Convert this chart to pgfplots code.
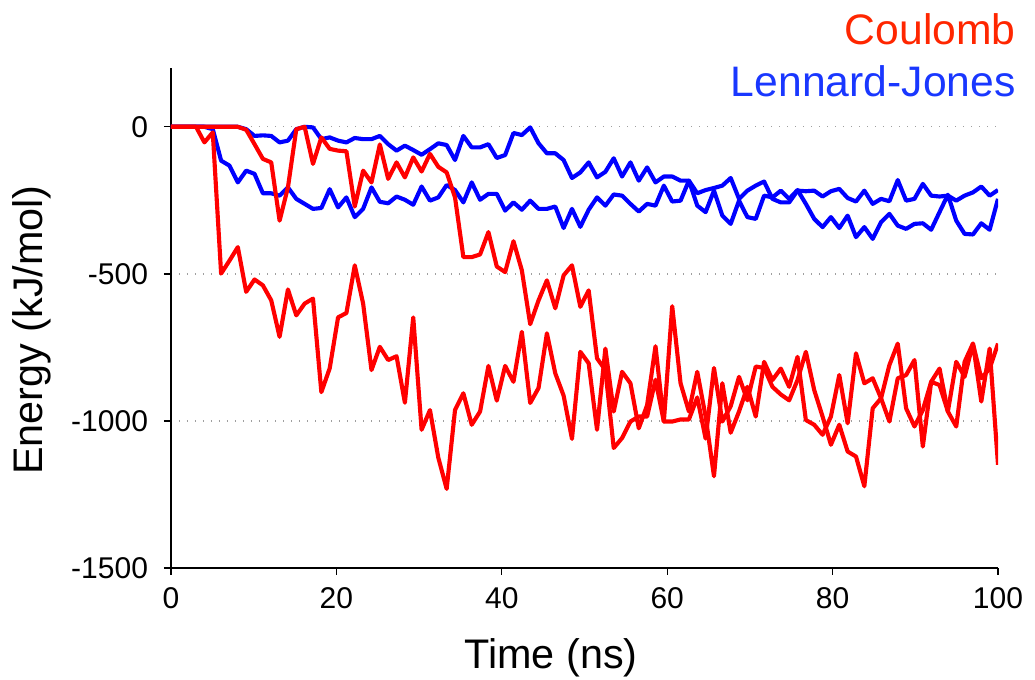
\documentclass[border=0pt]{standalone}
\usepackage{fontspec}
\setmainfont{Liberation Sans}
\usepackage{pgfplots}
\usepackage{pgfplotstable}
\pgfplotsset{compat=1.18}
\definecolor{lred}{RGB}{255,0,0}
\definecolor{lblue}{RGB}{0,0,255}
\definecolor{tred}{RGB}{255,38,0}
\definecolor{tblue}{RGB}{25,55,255}
\pgfplotstableread{
i ra rb ba bb
0 0 0 0 0
1 0 0 0 0
2 0 0 0 0
3 0 0 0 0
4 -53 0 0 0
5 -19 0 -8 0
6 -499 0 -115 0
7 -455 0 -132 0
8 -409 0 -189 0
9 -561 -10 -149 -8
10 -519 -59 -160 -31
11 -539 -109 -226 -29
12 -590 -121 -226 -31
13 -714 -319 -234 -53
14 -553 -206 -206 -47
15 -641 -8 -245 -8
16 -601 0 -262 0
17 -584 -126 -279 -2
18 -902 -36 -276 -42
19 -821 -75 -212 -36
20 -648 -81 -274 -47
21 -633 -83 -240 -53
22 -471 -271 -307 -38
23 -601 -149 -279 -42
24 -827 -189 -206 -42
25 -748 -60 -255 -31
26 -793 -177 -260 -59
27 -780 -121 -237 -81
28 -938 -172 -248 -64
29 -648 -104 -265 -79
30 -1030 -152 -203 -95
31 -963 -92 -251 -76
32 -1125 -136 -240 -56
33 -1231 -155 -198 -62
34 -963 -240 -215 -113
35 -906 -443 -257 -31
36 -1013 -443 -189 -70
37 -968 -434 -248 -70
38 -813 -358 -228 -59
39 -931 -475 -228 -106
40 -813 -494 -285 -96
41 -867 -389 -257 -21
42 -697 -488 -282 -28
43 -939 -671 -251 -2
44 -888 -590 -279 -56
45 -702 -522 -279 -90
46 -838 -617 -271 -90
47 -914 -505 -344 -113
48 -1061 -471 -279 -174
49 -765 -612 -340 -155
50 -804 -556 -282 -121
51 -1030 -787 -240 -172
52 -754 -827 -268 -153
53 -968 -1092 -230 -107
54 -833 -1058 -234 -169
55 -872 -1002 -262 -121
56 -1025 -985 -288 -183
57 -946 -985 -262 -138
58 -746 -860 -268 -189
59 -1002 -1002 -200 -169
60 -610 -1002 -254 -169
61 -872 -995 -251 -183
62 -968 -995 -183 -183
63 -833 -920 -268 -226
64 -985 -1060 -290 -215
65 -1188 -820 -217 -208
66 -872 -1002 -302 -200
67 -1040 -950 -330 -174
68 -968 -850 -251 -245
69 -884 -930 -307 -217
70 -985 -815 -313 -200
71 -799 -820 -234 -186
72 -861 -884 -240 -245
73 -822 -910 -217 -257
74 -884 -930 -245 -257
75 -782 -861 -215 -217
76 -997 -765 -262 -219
77 -1013 -895 -313 -217
78 -1047 -985 -341 -237
79 -985 -1081 -307 -219
80 -844 -1013 -344 -211
81 -1008 -1104 -302 -242
82 -770 -1121 -375 -254
83 -872 -1222 -341 -217
84 -855 -957 -381 -262
85 -923 -923 -324 -245
86 -1002 -810 -296 -253
87 -855 -737 -336 -181
88 -844 -957 -347 -251
89 -793 -1019 -330 -245
90 -1087 -963 -328 -194
91 -867 -867 -350 -234
92 -878 -822 -290 -237
93 -968 -968 -231 -234
94 -799 -1019 -319 -251
95 -850 -799 -364 -234
96 -737 -737 -366 -223
97 -934 -855 -328 -203
98 -754 -822 -350 -234
99 -1149 -737 -245 -215
}\data
\begin{document}
\begin{tikzpicture}
\useasboundingbox (-128.25pt,-84pt) rectangle (648pt,426pt);
\begin{axis}[
  at={(0,0)}, anchor=south west,
  scale only axis, width=620.25pt, height=375pt,
  xmin=0, xmax=100, ymin=-1500, ymax=200,
  axis x line*=bottom, axis y line*=left,
  axis line style={line width=1.2pt, black},
  tick align=outside, major tick length=5.25pt,
  every tick/.style={line width=1pt, black},
  xtick={0,20,40,60,80,100},
  xticklabels={0,20,40,60,80,100},
  ytick={-1500,-1000,-500,0},
  yticklabels={-1500,-1000,-500,0},
  ymajorgrids,
  grid style={gray!75, line width=1pt, dash pattern=on 1pt off 5pt},
  tick label style={font=\fontsize{22.5}{22.5}\selectfont},
  xticklabel style={yshift=-6pt},
  yticklabel style={xshift=-8.5pt},
  xlabel={Time (ns)},
  xlabel style={at={(rel axis cs:0.4595,-0.202)}, anchor=base, font=\fontsize{31}{31}\selectfont},
  ylabel={Energy (kJ/mol)},
  ylabel style={at={(rel axis cs:-0.1548,0.476)}, anchor=base, rotate=0, font=\fontsize{31}{31}\selectfont},
  every axis plot/.append style={line width=3.1pt, line join=round},
]
\addplot[lblue, no markers] table[x expr=\thisrow{i}*100/99, y=ba] {\data};
\addplot[lblue, no markers] table[x expr=\thisrow{i}*100/99, y=bb] {\data};
\addplot[lred, no markers] table[x expr=\thisrow{i}*100/99, y=ra] {\data};
\addplot[lred, no markers] table[x expr=\thisrow{i}*100/99, y=rb] {\data};
\end{axis}
\node[anchor=base east, text=tred, font=\fontsize{32}{32}\selectfont] at (637pt,392.25pt) {Coulomb};
\node[anchor=base east, text=tblue, font=\fontsize{32}{32}\selectfont] at (637pt,353.25pt) {Lennard-Jones};
\end{tikzpicture}
\end{document}
